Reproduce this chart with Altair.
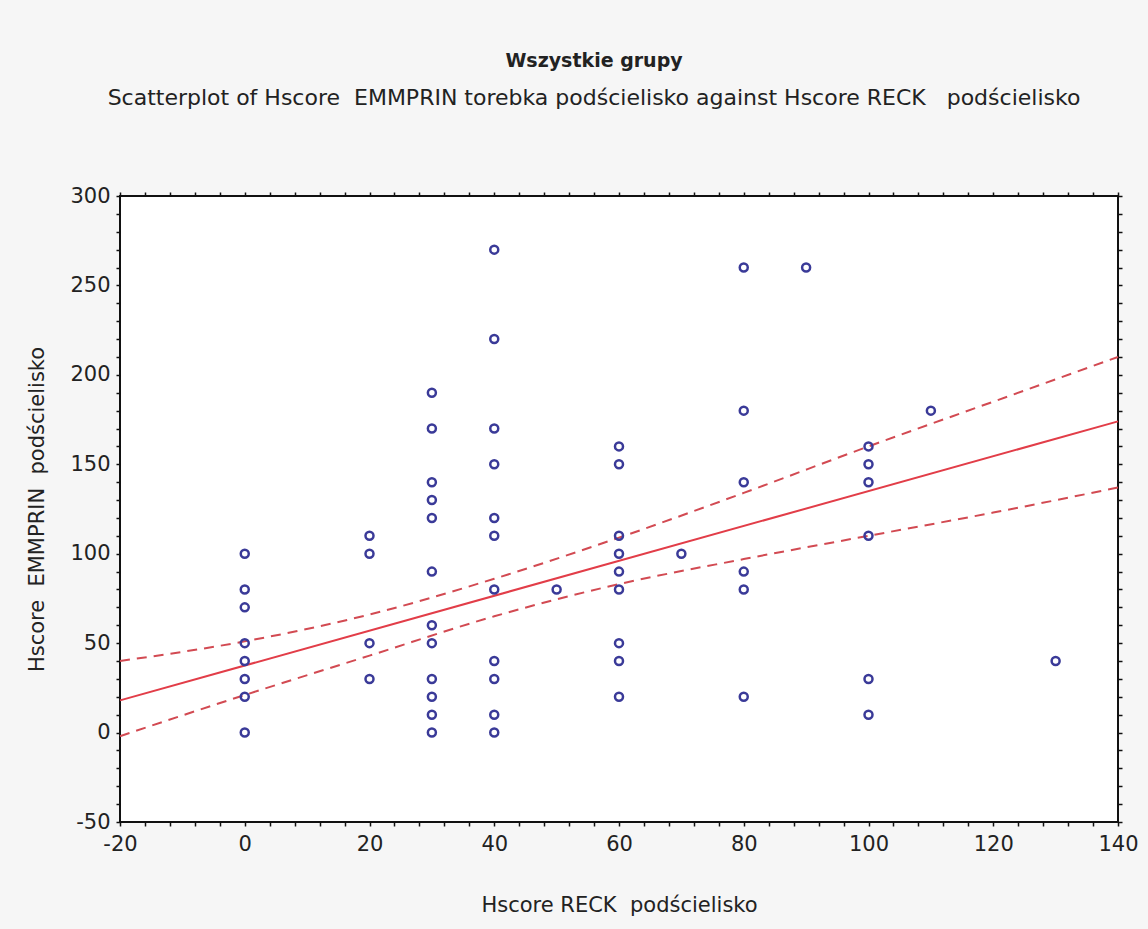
import altair as alt
import pandas as pd

# Hscore RECK (x) and Hscore EMMPRIN (y)
reck = ([0] * 8 + [20] * 4 + [30] * 12 + [40] * 11 + [50] + [60] * 9 + [70]
        + [80] * 6 + [90] + [100] * 6 + [110] + [130])
emmprin = [100, 80, 70, 50, 40, 30, 20, 0,
           110, 100, 50, 30,
           190, 170, 140, 130, 120, 90, 60, 50, 30, 20, 10, 0,
           270, 220, 170, 150, 120, 110, 80, 40, 30, 10, 0,
           80,
           160, 150, 110, 100, 90, 80, 50, 40, 20,
           100,
           260, 180, 140, 90, 80, 20,
           260,
           160, 150, 140, 110, 30, 10,
           180,
           40]

# regression line and confidence band
fit_x = [-20, 140]
fit_y = [18, 174]
band_x = [-20, 0, 20, 40, 60, 80, 100, 120, 140]
band_upper = [40, 51, 66, 86, 109, 134, 160, 185, 210]
band_lower = [-2, 21, 43, 65, 83, 97, 110, 123, 137]

x_ticks = list(range(-20, 141, 4))
y_ticks = list(range(-50, 301, 10))

NB = "\u00a0"
title_text = "Wszystkie grupy"
subtitle_text = ("Scatterplot of Hscore" + NB + " EMMPRIN torebka podścielisko against Hscore RECK"
                 + NB + NB + " podścielisko")
x_title = "Hscore RECK" + NB + " podścielisko"
y_title = "Hscore" + NB + " EMMPRIN" + NB + " podścielisko"

pts = pd.DataFrame({"x": reck, "y": emmprin})
fit = pd.DataFrame({"x": fit_x, "y": fit_y})
band = pd.DataFrame({
    "x": band_x + band_x,
    "y": band_upper + band_lower,
    "bound": ["upper"] * len(band_x) + ["lower"] * len(band_x),
})

FONT = "DejaVu Sans"
TXT = "#222222"
xscale = alt.Scale(domain=[-20, 140], nice=False, zero=False)
yscale = alt.Scale(domain=[-50, 300], nice=False, zero=False)

common_axis = dict(
    domain=False, grid=False, tickColor="#111111", tickSize=4, tickWidth=1.5,
    labelFont=FONT, labelFontSize=21, labelColor=TXT, labelOverlap=False,
    labelFlush=False, titleFont=FONT, titleFontSize=21, titleFontWeight="normal",
    titleColor=TXT,
)

x_main = alt.Axis(values=x_ticks, orient="bottom", title=x_title,
                  labelExpr="datum.value % 20 === 0 ? '' + datum.value : ''",
                  labelPadding=7, titlePadding=40, **common_axis)
y_main = alt.Axis(values=y_ticks, orient="left", title=y_title,
                  labelExpr="datum.value % 50 === 0 ? '' + datum.value : ''",
                  labelPadding=6, titlePadding=22, **common_axis)
x_top = alt.Axis(values=x_ticks, orient="top", labels=False, title="", **common_axis)
y_right = alt.Axis(values=y_ticks, orient="right", labels=False, title="", **common_axis)

points = alt.Chart(pts).mark_point(
    shape="circle", filled=False, size=64, strokeWidth=2.5, color="#3a3a98", opacity=1
).encode(
    x=alt.X("x:Q", scale=xscale, axis=x_main),
    y=alt.Y("y:Q", scale=yscale, axis=y_main),
)

fit_line = alt.Chart(fit).mark_line(color="#e23d48", strokeWidth=2).encode(
    x=alt.X("x:Q", scale=xscale, axis=x_top),
    y=alt.Y("y:Q", scale=yscale, axis=y_right),
)

band_lines = alt.Chart(band).mark_line(
    color="#d24a52", strokeWidth=2, strokeDash=[10, 7], interpolate="monotone"
).encode(
    x=alt.X("x:Q", scale=xscale, axis=None),
    y=alt.Y("y:Q", scale=yscale, axis=None),
    detail="bound:N",
)

chart = alt.layer(
    band_lines, fit_line, points
).resolve_axis(
    x="independent", y="independent"
).properties(
    width=998,
    height=626,
    autosize=alt.AutoSizeParams(type="none"),
    padding={"left": 120, "top": 196, "right": 30, "bottom": 107},
    background="#f6f6f6",
    title=alt.TitleParams(
        text=title_text, subtitle=subtitle_text, anchor="middle",
        font=FONT, fontSize=19, fontWeight="bold", color=TXT,
        subtitleFont=FONT, subtitleFontSize=22, subtitleColor=TXT,
        subtitlePadding=17, offset=76, dx=-25,
    ),
).configure_view(
    fill="white", stroke="#111111", strokeWidth=2
)

chart.save("out.html", embed_options={"renderer": "svg", "actions": False})
